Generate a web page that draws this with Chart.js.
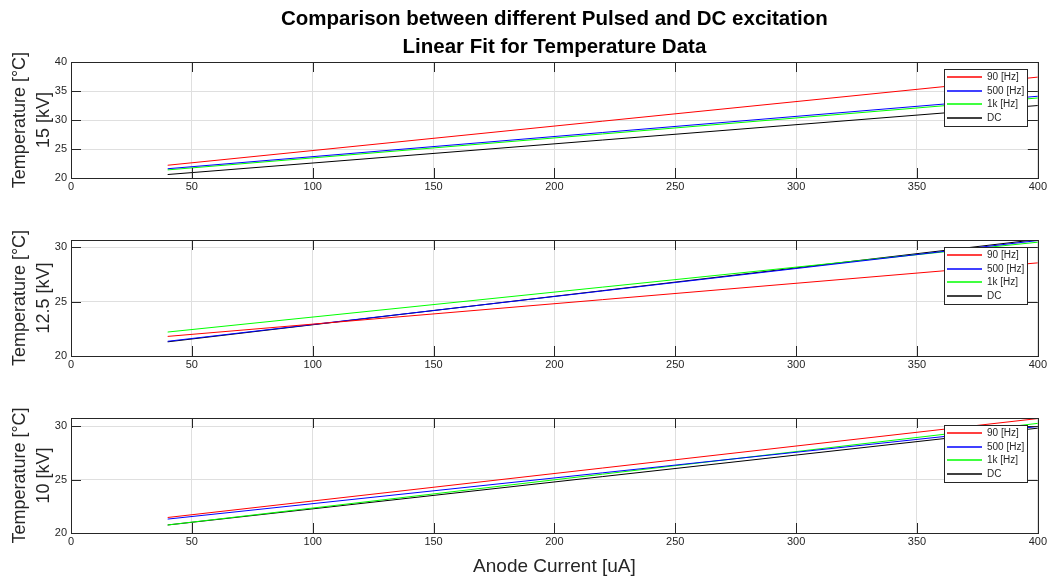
<!DOCTYPE html>
<html><head><meta charset="utf-8">
<script src="https://cdn.jsdelivr.net/npm/chart.js@4.4.0/dist/chart.umd.min.js"></script>
<style>
html,body{margin:0;padding:0;background:#fff;overflow:hidden;}
.w{position:absolute;left:0;width:1049px;}
</style></head><body>
<div class="w" style="top:0;height:200px"><canvas id="c1"></canvas></div>
<div class="w" style="top:200px;height:178px"><canvas id="c2"></canvas></div>
<div class="w" style="top:378px;height:202px"><canvas id="c3"></canvas></div>
<script>
// ---- data ----
const seriesLabels = ['90 [Hz]', '500 [Hz]', '1k [Hz]', 'DC'];
const seriesColors = ['#ff0000', '#0000ff', '#00ff00', '#000000'];
const fitX = [40, 400];                       // anode current [uA], fit endpoints
const xTickValues = [0, 50, 100, 150, 200, 250, 300, 350, 400];
const yTickValues = [20, 25, 30, 35, 40];

// 15 kV
const t15_90  = [22.2, 37.4];
const t15_500 = [21.6, 34.1];
const t15_1k  = [21.4, 33.8];
const t15_dc  = [20.6, 32.5];
// 12.5 kV
const t125_90  = [21.8, 28.55];
const t125_500 = [21.35, 30.6];
const t125_1k  = [22.2, 30.45];
const t125_dc  = [21.3, 30.7];
// 10 kV
const t10_90  = [21.45, 30.7];
const t10_500 = [21.3, 29.95];
const t10_1k  = [20.75, 30.25];
const t10_dc  = [20.75, 29.8];

const FAMILY = '"Liberation Sans", Arial, Helvetica, sans-serif';
const TXT = '#262626';
const GRID = '#dfdfdf';

const framePlugin = {
  id: 'frameLegend',
  afterDatasetsDraw(chart) {
    const {ctx, chartArea: a} = chart;
    const xs = chart.scales.x, ys = chart.scales.y;
    ctx.save();
    ctx.strokeStyle = TXT;
    ctx.lineWidth = 1;
    // inner tick marks
    ctx.beginPath();
    const tl = 10;
    xs.ticks.forEach(t => {
      const px = Math.round(xs.getPixelForValue(t.value)) + 0.5;
      ctx.moveTo(px, a.bottom); ctx.lineTo(px, a.bottom - tl);
      ctx.moveTo(px, a.top); ctx.lineTo(px, a.top + tl);
    });
    ys.ticks.forEach(t => {
      const py = Math.round(ys.getPixelForValue(t.value)) + 0.5;
      ctx.moveTo(a.left, py); ctx.lineTo(a.left + tl, py);
      ctx.moveTo(a.right, py); ctx.lineTo(a.right - tl, py);
    });
    ctx.stroke();
    // box
    ctx.strokeRect(Math.round(a.left) + 0.5, Math.round(a.top) + 0.5,
                   Math.round(a.right - a.left), Math.round(a.bottom - a.top));
    // legend
    const bw = 83, bh = 57;
    const bx = Math.round(a.right - 11 - bw), by = Math.round(a.top + 7);
    ctx.fillStyle = '#fff';
    ctx.fillRect(bx, by, bw, bh);
    ctx.strokeStyle = TXT;
    ctx.strokeRect(bx + 0.5, by + 0.5, bw, bh);
    ctx.font = '10px ' + FAMILY;
    ctx.textBaseline = 'middle';
    ctx.textAlign = 'left';
    chart.data.datasets.forEach((d, i) => {
      const yy = Math.round(by + 8 + i * 13.7);
      ctx.strokeStyle = seriesColors[i];
      ctx.lineWidth = 1.3;
      ctx.beginPath();
      ctx.moveTo(bx + 3, yy);
      ctx.lineTo(bx + 38, yy);
      ctx.stroke();
      ctx.fillStyle = TXT;
      ctx.fillText(d.label, bx + 43, yy + 0.5);
    });
    ctx.restore();
  }
};

function makeChart(id, series, yMax, yTitle, o) {
  return new Chart(document.getElementById(id), {
    type: 'line',
    data: {
      datasets: series.map((s, i) => ({
        label: seriesLabels[i],
        data: fitX.map((x, j) => ({x: x, y: s[j]})),
        borderColor: seriesColors[i],
        borderWidth: 1,
        pointRadius: 0,
        fill: false,
        tension: 0
      }))
    },
    options: {
      responsive: true,
      maintainAspectRatio: false,
      animation: false,
      events: [],
      layout: {padding: {top: o.padTop, right: 10, left: 0, bottom: 0}},
      plugins: {
        legend: {display: false},
        tooltip: {enabled: false},
        title: o.title ? {
          display: true,
          text: o.title,
          fullSize: false,
          color: '#000',
          font: {family: FAMILY, size: 20.5, weight: 'bold', lineHeight: 1.33},
          padding: {top: 6, bottom: 1.5}
        } : {display: false}
      },
      scales: {
        x: {
          type: 'linear', min: 0, max: 400,
          afterBuildTicks: s => { s.ticks = xTickValues.map(v => ({value: v})); },
          afterFit: s => { s.height = o.xH; },
          grid: {color: GRID, drawTicks: false},
          border: {display: false},
          ticks: {padding: 2, color: TXT, font: {family: FAMILY, size: 11}, maxRotation: 0},
          title: o.xTitle ? {
            display: true, text: o.xTitle, color: TXT,
            font: {family: FAMILY, size: 19, lineHeight: 1.3},
            padding: {top: 0, bottom: 1}
          } : {display: false}
        },
        y: {
          type: 'linear', min: 20, max: yMax,
          afterBuildTicks: s => { s.ticks = yTickValues.filter(v => v <= yMax).map(v => ({value: v})); },
          afterFit: s => { s.width = 71; },
          grid: {color: GRID, drawTicks: false},
          border: {display: false},
          ticks: {padding: 4, color: TXT, font: {family: FAMILY, size: 11}},
          title: {
            display: true, text: yTitle, color: TXT,
            font: {family: FAMILY, size: 18, lineHeight: 1.333},
            padding: {top: 8.4, bottom: 0}
          }
        }
      }
    },
    plugins: [framePlugin]
  });
}

makeChart('c1', [t15_90, t15_500, t15_1k, t15_dc], 40, ['Temperature [°C]', '15 [kV]'],
  {padTop: 0, xH: 22, title: ['Comparison between different Pulsed and DC excitation', 'Linear Fit for Temperature Data']});
makeChart('c2', [t125_90, t125_500, t125_1k, t125_dc], 30.65, ['Temperature [°C]', '12.5 [kV]'],
  {padTop: 40, xH: 22});
makeChart('c3', [t10_90, t10_500, t10_1k, t10_dc], 30.75, ['Temperature [°C]', '10 [kV]'],
  {padTop: 40, xH: 47, xTitle: 'Anode Current [uA]'});
</script>
</body></html>
